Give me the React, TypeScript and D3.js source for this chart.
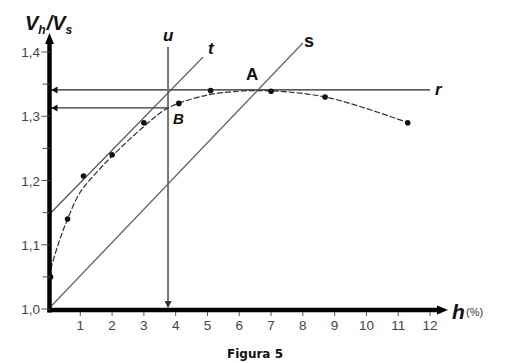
import React from "react";
import * as d3 from "d3";

const xTicks = [1, 2, 3, 4, 5, 6, 7, 8, 9, 10, 11, 12];
const yTicks = [1.0, 1.1, 1.2, 1.3, 1.4];
const yMinor = [1.05, 1.15, 1.25, 1.35];
const yTickLabels = ["1,0", "1,1", "1,2", "1,3", "1,4"];

// measured points
const pointH = [0, 0.6, 1.1, 2.0, 3.0, 4.1, 5.1, 7.0, 8.7, 11.3];
const pointV = [1.05, 1.14, 1.207, 1.24, 1.29, 1.32, 1.34, 1.339, 1.33, 1.29];

// fitted curve
const fitH = [0, 0.3, 0.6, 1.0, 1.5, 2.0, 3.0, 3.76, 5.0, 6.0, 6.6, 7.5, 8.7, 10.0, 11.3];
const fitV = [1.05, 1.1, 1.14, 1.182, 1.212, 1.238, 1.284, 1.313, 1.333, 1.339, 1.34, 1.338, 1.33, 1.312, 1.29];

// straight lines
const rValue = 1.341; // horizontal r
const bValue = 1.313; // horizontal to B
const uH = 3.76; // vertical u
const tStart = [0, 1.146];
const tEnd = [4.86, 1.392];
const sStart = [0, 1.0];
const sEnd = [8.0, 1.414];

export default function App() {
  const x = d3.scaleLinear().domain([0, 12]).range([48.5, 430]);
  const y = d3.scaleLinear().domain([1.0, 1.4]).range([309, 52]);

  const fitLine = d3
    .line<number>()
    .x((_, i) => x(fitH[i]))
    .y((d) => y(d))
    .curve(d3.curveCatmullRom.alpha(0.5));

  const axisX = 49.5;
  const axisY = 310;
  const labelFont = "Arial, 'Liberation Sans', sans-serif";

  return (
    <svg
      width={505}
      height={363}
      style={{ position: "absolute", left: 0, top: 0, background: "#fff" }}
    >
      {/* straight lines */}
      <line x1={x(0)} x2={x(12)} y1={y(rValue)} y2={y(rValue)} stroke="#222" strokeWidth={1.4} />
      <line x1={x(0)} x2={x(uH)} y1={y(bValue)} y2={y(bValue)} stroke="#333" strokeWidth={1.3} />
      <line x1={x(uH)} x2={x(uH)} y1={y(1.408)} y2={y(1.0) - 2} stroke="#777" strokeWidth={2} />
      <line x1={x(tStart[0])} y1={y(tStart[1])} x2={x(tEnd[0])} y2={y(tEnd[1])} stroke="#555" strokeWidth={1.3} />
      <line x1={x(sStart[0])} y1={y(sStart[1])} x2={x(sEnd[0])} y2={y(sEnd[1])} stroke="#666" strokeWidth={1.3} />

      {/* arrowheads */}
      <path d={`M${axisX + 2},${y(rValue)} l6,-3.5 l0,7 Z`} fill="#111" />
      <path d={`M${axisX + 2},${y(bValue)} l6,-3.5 l0,7 Z`} fill="#111" />
      <path d={`M${x(uH)},${axisY - 2} l-3.5,-7 l7,0 Z`} fill="#333" />

      {/* fitted curve */}
      <path d={fitLine(fitV) || ""} fill="none" stroke="#333" strokeWidth={1.2} strokeDasharray="6,2" />

      {/* axes */}
      <line x1={axisX} x2={axisX} y1={axisY + 2.5} y2={42} stroke="#000" strokeWidth={4.5} />
      <path d={`M${axisX},33 l-4.5,11 l9,0 Z`} fill="#000" />
      <line x1={axisX - 2} x2={440} y1={axisY} y2={axisY} stroke="#000" strokeWidth={4.5} />
      <path d={`M448,${axisY} l-11,-4.5 l0,9 Z`} fill="#000" />

      {/* points */}
      {pointV.map((v, i) => (
        <circle key={i} cx={x(pointH[i]) + (i === 0 ? 2 : 0)} cy={y(v)} r={2.8} fill="#111" />
      ))}

      {xTicks.map((t) => (
        <g key={t}>
          <line x1={x(t)} x2={x(t)} y1={axisY + 2} y2={axisY + 6} stroke="#555" strokeWidth={1} />
          <text x={x(t)} y={axisY + 20} textAnchor="middle" fontSize={13.5} fill="#444" fontFamily={labelFont}>
            {t}
          </text>
        </g>
      ))}
      {yTicks.map((t, i) => (
        <g key={t}>
          <line x1={axisX - 8} x2={axisX} y1={y(t)} y2={y(t)} stroke="#555" strokeWidth={1} />
          <text x={40} y={y(t) + 5} textAnchor="end" fontSize={13.5} fill="#444" fontFamily={labelFont}>
            {yTickLabels[i]}
          </text>
        </g>
      ))}
      {yMinor.map((t) => (
        <line key={t} x1={axisX - 7} x2={axisX} y1={y(t)} y2={y(t)} stroke="#555" strokeWidth={1} />
      ))}

      {/* axis titles */}
      <text x={25} y={30} fontFamily={labelFont} fontWeight="bold" fontStyle="italic" fill="#111">
        <tspan fontSize={20}>V</tspan>
        <tspan fontSize={12} dy={4}>h</tspan>
        <tspan fontSize={20} dy={-4} dx={1}>/V</tspan>
        <tspan fontSize={12} dy={4}>s</tspan>
      </text>
      <text x={452} y={319} fontFamily={labelFont} fontWeight="bold" fontStyle="italic" fontSize={21} fill="#111">
        h
      </text>
      <text x={466} y={316} fontFamily={labelFont} fontSize={11} fill="#333">
        (%)
      </text>

      {/* line labels */}
      <g fontFamily={labelFont} fontWeight="bold" fontStyle="italic" fontSize={17} fill="#111">
        <text x={435} y={95}>r</text>
        <text x={163} y={41}>u</text>
        <text x={208} y={54}>t</text>
        <text x={304} y={47} fontStyle="normal" fontSize={18}>s</text>
        <text x={246} y={80} fontStyle="normal" fontSize={17}>A</text>
        <text x={173} y={124} fontSize={15}>B</text>
      </g>

      <text x={255} y={358} textAnchor="middle" fontFamily="Verdana, 'DejaVu Sans', sans-serif" fontWeight="bold" fontSize={12} fill="#111">
        Figura 5
      </text>
    </svg>
  );
}
